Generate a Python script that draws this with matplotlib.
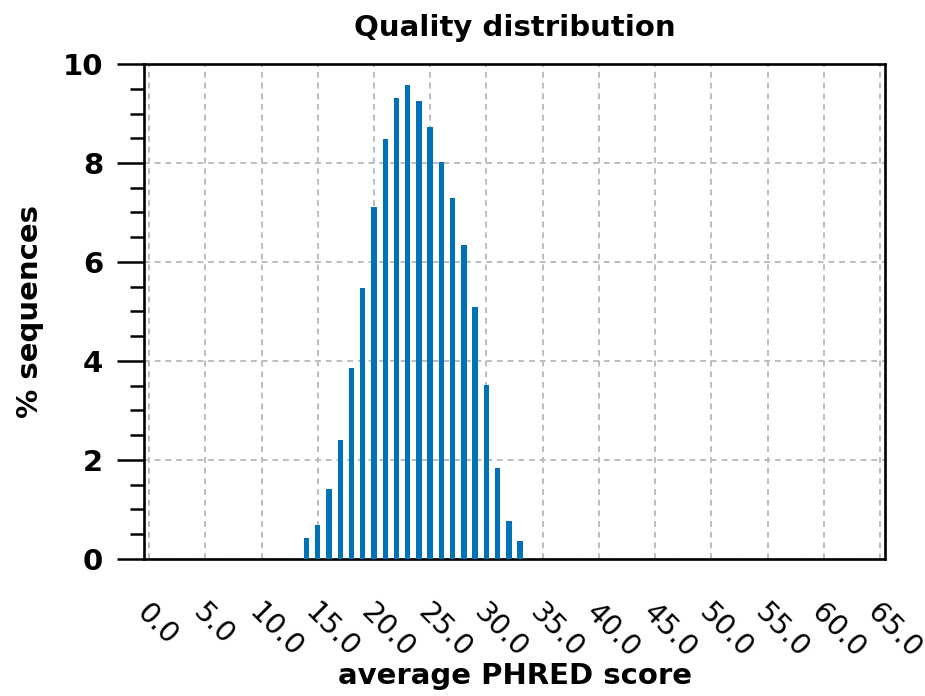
import matplotlib
matplotlib.use("Agg")
import matplotlib.pyplot as plt
from matplotlib.ticker import MultipleLocator
import matplotlib.transforms as mtransforms

scores = [14, 15, 16, 17, 18, 19, 20, 21, 22, 23, 24, 25, 26, 27, 28, 29, 30, 31, 32, 33]
percent = [0.42, 0.69, 1.41, 2.40, 3.85, 5.47, 7.12, 8.48, 9.31, 9.58,
           9.26, 8.72, 8.03, 7.29, 6.34, 5.10, 3.51, 1.84, 0.77, 0.36]
xticks = [0, 5, 10, 15, 20, 25, 30, 35, 40, 45, 50, 55, 60, 65]
xticklabels = ["%.1f" % v for v in xticks]
yticks = [0, 2, 4, 6, 8, 10]

plt.rcParams['font.family'] = ['DejaVu Sans']

fig = plt.figure(figsize=(9.25, 6.96), dpi=100)
ax = fig.add_axes([0.1557, 0.197, 0.8011, 0.711])

ax.bar(scores, percent, width=0.48, color='#0072B8', zorder=3)

ax.set_xlim(-0.45, 65.45)
ax.set_ylim(0, 10)

# x ticks: positions for the grid, labels drawn rotated below the axis
ax.set_xticks(xticks)
ax.set_xticklabels([])
ax.tick_params(axis='x', length=0, pad=0)
lab_trans = ax.get_xaxis_transform() + mtransforms.ScaledTranslation(-18 / 100, -40 / 100, fig.dpi_scale_trans)
for xv, txt in zip(xticks, xticklabels):
    ax.text(xv, 0, txt, transform=lab_trans, rotation=-45, ha='left', va='top',
            fontsize=20.5, fontweight='normal', clip_on=False)

ax.set_yticks(yticks)
ax.set_yticklabels([str(v) for v in yticks], fontsize=21, fontweight='bold')
ax.yaxis.set_minor_locator(MultipleLocator(0.5))
ax.tick_params(axis='y', which='major', direction='out', length=19.5, width=1.8, pad=10)
ax.tick_params(axis='y', which='minor', direction='out', length=10, width=1.8)

for sp in ax.spines.values():
    sp.set_linewidth(1.9)
    sp.set_color('black')

ax.grid(True, which='major', color='#bdbdbd', linestyle=(0, (3, 2.5)), linewidth=1.4, zorder=0)
ax.set_axisbelow(True)

ax.set_title('Quality distribution', fontsize=21, fontweight='bold', pad=20)
ax.set_xlabel('average PHRED score', fontsize=21, fontweight='bold')
ax.xaxis.set_label_coords(0.5, -0.208)
ax.set_ylabel('% sequences', fontsize=21, fontweight='bold', labelpad=13)

fig.savefig('out.png', dpi=100)
